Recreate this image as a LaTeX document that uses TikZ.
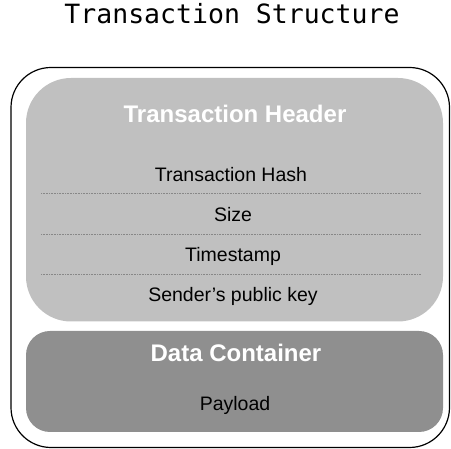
\documentclass[tikz,border=0pt]{standalone}
\usepackage{fontspec}
\setmainfont{Liberation Sans}
\newfontfamily\titlefont{DejaVu Sans Mono}
\definecolor{hdrgray}{RGB}{192,192,192}
\definecolor{datagray}{RGB}{143,143,143}
\definecolor{dotgray}{RGB}{135,135,135}
\begin{document}
\begin{tikzpicture}[x=1pt,y=-1pt,
  outerbox/.style={draw=black,line width=1.2pt},
  hdrbox/.style={fill=hdrgray},
  databox/.style={fill=datagray},
  sectitle/.style={anchor=base,text=white,font=\fontsize{24}{28}\selectfont\bfseries,inner sep=0pt},
  itemtxt/.style={anchor=base,text=black,font=\fontsize{19.5}{23}\selectfont,inner sep=0pt},
  sepline/.style={draw=dotgray,line width=0.6pt,dash pattern=on 0.6pt off 1pt}
]
\useasboundingbox (0,0) rectangle (451,449);
% title
\node[anchor=base,inner sep=0pt,font=\titlefont\fontsize{26.5}{30}\selectfont] (title) at (232,23.5) {Transaction Structure};
% outer container
\draw[outerbox,rounded corners=40pt] (11,67.5) rectangle (449.5,447.5);
% header box
\fill[hdrbox,rounded corners=45pt] (26,78) rectangle (443,321.5);
% data box
\fill[databox,rounded corners=24pt] (26,331) rectangle (443,432);
% header texts
\node[sectitle] (hdr) at (235,122.5) {Transaction Header};
\node[itemtxt] (hash) at (231,181.7) {Transaction Hash};
\node[itemtxt] (size) at (233,221.7) {Size};
\node[itemtxt] (time) at (233,261.7) {Timestamp};
\node[itemtxt] (key) at (233,301.7) {Sender’s public key};
% separators
\coordinate (s1a) at (41,193); \coordinate (s1b) at (421,193);
\coordinate (s2a) at (41,234); \coordinate (s2b) at (421,234);
\coordinate (s3a) at (41,274); \coordinate (s3b) at (421,274);
\draw[sepline] (s1a) -- (s1b);
\draw[sepline] (s2a) -- (s2b);
\draw[sepline] (s3a) -- (s3b);
% data texts
\node[sectitle] (data) at (236,362) {Data Container};
\node[itemtxt] (payload) at (235,411) {Payload};
\end{tikzpicture}
\end{document}
